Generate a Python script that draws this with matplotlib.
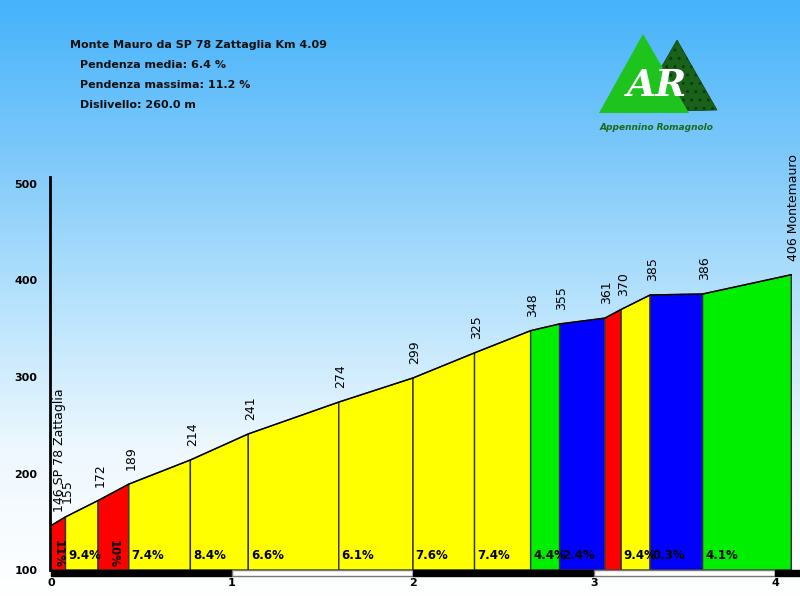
import numpy as np
import matplotlib
matplotlib.use("Agg")
import matplotlib.pyplot as plt
from matplotlib.patches import Polygon, Rectangle
from matplotlib.colors import LinearSegmentedColormap

# profile data
km = [0, 0.08, 0.26, 0.43, 0.77, 1.09, 1.59, 2.00, 2.34, 2.65, 2.81, 3.06, 3.15, 3.31, 3.60, 4.09]
elev = [146, 155, 172, 189, 214, 241, 274, 299, 325, 348, 355, 361, 370, 385, 386, 406]
elev_labels = ["146 SP 78 Zattaglia", "155", "172", "189", "214", "241", "274", "299",
               "325", "348", "355", "361", "370", "385", "386", "406 Montemauro"]
grade_labels = ["11%", "9.4%", "10%", "7.4%", "8.4%", "6.6%", "6.1%", "7.6%", "7.4%",
                "4.4%", "2.4%", "", "9.4%", "0.3%", "4.1%"]
y_ticks = [100, 200, 300, 400, 500]
x_ticks = [0, 1, 2, 3, 4]

title = "Monte Mauro da SP 78 Zattaglia Km 4.09"
info = ["Pendenza media: 6.4 %", "Pendenza massima: 11.2 %", "Dislivello: 260.0 m"]


def grade_color(g):
    if g >= 10:
        return "#ff0000"
    if g >= 6:
        return "#ffff00"
    if g >= 4:
        return "#00ee00"
    return "#0000ff"


fig = plt.figure(figsize=(8, 6), dpi=100)

# background in pixel coordinates
bg = fig.add_axes([0, 0, 1, 1])
bg.set_xlim(0, 800)
bg.set_ylim(600, 0)
bg.axis("off")
sky = LinearSegmentedColormap.from_list("sky", ["#46b3fa", "#7cc8fa", "#b6e2fc", "#eef8fe", "#ffffff"])
grad = np.linspace(0, 1, 300).reshape(-1, 1)
bg.imshow(grad, cmap=sky, extent=[0, 800, 600, 0], aspect="auto", zorder=0)

bg.text(70, 45, title, fontsize=8, fontweight="bold", va="center", color="#111111")
for i, line in enumerate(info):
    bg.text(80, 65 + 20 * i, line, fontsize=8, fontweight="bold", va="center", color="#111111")

# logo
bg.add_patch(Polygon([(636, 112), (677, 40), (717, 110)], closed=True, facecolor="#1a621a",
                     edgecolor="#0b3d0b", hatch="..", lw=0.5, zorder=2))
bg.add_patch(Polygon([(599, 113), (643, 34), (689, 113)], closed=True, facecolor="#1ec31e",
                     edgecolor="none", zorder=3))
bg.text(657, 86, "AR", fontsize=27, fontweight="bold", style="italic", color="white",
        ha="center", va="center", family="DejaVu Serif", zorder=4)
bg.text(657, 127, "Appennino Romagnolo", fontsize=6.5, fontweight="bold", style="italic",
        color="#1a6a1a", ha="center", va="center", zorder=4)

# profile axes: 181 px per km, 0.965 px per metre
px_km = 181.0
px_m = 0.965
x0_px, y100_px = 51, 570
ylo, yhi = 92, 507
left_px, right_px = 50, 800
bottom_px = y100_px + (100 - ylo) * px_m
top_px = y100_px - (yhi - 100) * px_m
ax = fig.add_axes([left_px / 800, (600 - bottom_px) / 600,
                   (right_px - left_px) / 800, (bottom_px - top_px) / 600])
ax.set_xlim((left_px - x0_px) / px_km, (right_px - x0_px) / px_km)
ax.set_ylim(ylo, yhi)
ax.patch.set_visible(False)
for s in ["top", "right", "bottom"]:
    ax.spines[s].set_visible(False)
ax.spines["left"].set_linewidth(2)
ax.spines["left"].set_bounds(100, yhi)

for i in range(len(km) - 1):
    xa, xb = km[i], km[i + 1]
    ea, eb = elev[i], elev[i + 1]
    g = (eb - ea) / ((xb - xa) * 1000) * 100
    ax.add_patch(Polygon([(xa, 100), (xa, ea), (xb, eb), (xb, 100)], closed=True,
                         facecolor=grade_color(g), edgecolor="#333333", lw=1, zorder=2))
    lab = grade_labels[i]
    if not lab:
        continue
    if g >= 10:
        ax.text((xa + xb) / 2, 117, lab, rotation=270, ha="center", va="center",
                fontsize=8.5, fontweight="bold", zorder=4)
    else:
        ax.text(xa + 0.015, 115.5, lab, ha="left", va="center",
                fontsize=8.5, fontweight="bold", zorder=4)

ax.plot(km, elev, color="black", lw=1, zorder=3)

for i, (x, e, lab) in enumerate(zip(km, elev, elev_labels)):
    dx = 6 if i == 0 else 1.5
    ax.annotate(lab, (x, e), xytext=(dx, 10), textcoords="offset points", rotation=90,
                ha="center", va="bottom", fontsize=9, zorder=5, annotation_clip=False)

# km bar under the profile
bar_h = 6 / px_m
for k in range(5):
    fc = "black" if k % 2 == 0 else "white"
    ec = "black" if k % 2 == 0 else "#777777"
    ax.add_patch(Rectangle((k, 100 - bar_h), 1, bar_h, facecolor=fc, edgecolor=ec,
                           lw=1, zorder=3, clip_on=False))

ax.set_yticks(y_ticks)
ax.set_yticklabels([str(v) for v in y_ticks], fontsize=8, fontweight="bold")
ax.set_xticks(x_ticks)
ax.set_xticklabels([str(v) for v in x_ticks], fontsize=8, fontweight="bold")
ax.tick_params(axis="both", length=0)
ax.tick_params(axis="y", pad=9)
ax.tick_params(axis="x", pad=0)

fig.savefig("out.png", dpi=100)
